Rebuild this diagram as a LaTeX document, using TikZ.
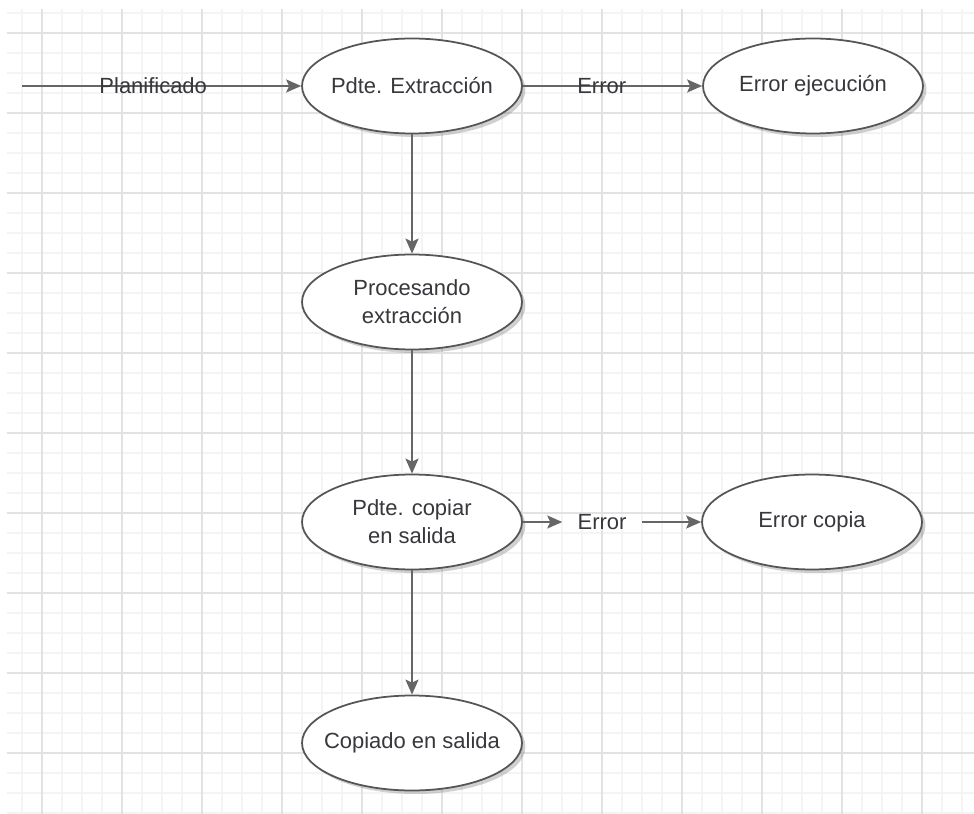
\documentclass[tikz,border=0pt]{standalone}
\usepackage{fontspec}
\setmainfont{Liberation Sans}
\usetikzlibrary{arrows.meta,shapes.geometric,shadows}
\definecolor{linea}{RGB}{102,102,102}
\definecolor{borde}{RGB}{85,85,85}
\definecolor{texto}{RGB}{55,55,60}
\definecolor{rejilla}{RGB}{226,226,226}
\definecolor{rejillafina}{RGB}{244,244,244}

\begin{document}
\begin{tikzpicture}
      [x = 0.02cm, y = -0.02cm,
      estado/.style= {
         ellipse,
         draw = borde,
         line width = 1pt,
         fill = white,
         minimum width = 4.4cm,
         minimum height = 1.9cm,
         inner xsep = -0.6cm,
         inner ysep = 0pt,
         align = center,
         text = texto,
         font = \fontsize{12.5}{16}\selectfont,
         drop shadow = {shadow xshift = 0.07cm, shadow yshift = -0.07cm,
            opacity = 0.3, fill = black!60}
      },
      flecha/.style= {
         -{Stealth[length = 0.3cm, width = 0.26cm, inset = 0.06cm]},
         draw = linea,
         line width = 1.1pt
      },
      etiqueta/.style= {
         text = texto,
         font = \fontsize{12.5}{16}\selectfont,
         inner sep = 0pt
      },
      fina/.style= {draw = rejillafina, line width = 0.8pt},
      gruesa/.style= {draw = rejilla, line width = 0.8pt}]

      \useasboundingbox (0, 0) rectangle (974, 814);
      \fill[white] (0, 0) rectangle (974, 814);

      % rejilla de fondo
      \foreach \x in {22, 42, ..., 962} \draw[fina] (\x, 9) -- (\x, 814);
      \foreach \y in {13, 33, ..., 813} \draw[fina] (7, \y) -- (974, \y);
      \foreach \x in {42, 122, ..., 922} \draw[gruesa] (\x, 9) -- (\x, 814);
      \foreach \y in {33, 113, ..., 753} \draw[gruesa] (7, \y) -- (974, \y);

      \node[estado] (extraccion) at (412, 86) {Pdte. Extracción};
      \node[estado] (errejec) at (813, 86) {Error ejecución};
      \node[estado] (procesando) at (412, 302) {Procesando\\extracción};
      \node[estado] (copiar) at (412, 522) {Pdte. copiar\\en salida};
      \node[estado] (errcopia) at (812, 522) {Error copia};
      \node[estado] (copiado) at (412, 743) {Copiado en salida};
      \node[etiqueta, inner xsep = 0.3cm] (errlabel) at (602, 522) {Error};
      \coordinate (inicio) at (22, 86);

      \draw[flecha] (inicio) -- (extraccion) node[etiqueta, pos = 0.47] {Planificado};
      \draw[flecha] (extraccion) -- (errejec) node[etiqueta, pos = 0.44] {Error};
      \draw[flecha] (extraccion) -- (procesando);
      \draw[flecha] (procesando) -- (copiar);
      \draw[flecha] (copiar) -- (errlabel);
      \draw[flecha] (errlabel) -- (errcopia);
      \draw[flecha] (copiar) -- (copiado);

   \end{tikzpicture}
\end{document}
